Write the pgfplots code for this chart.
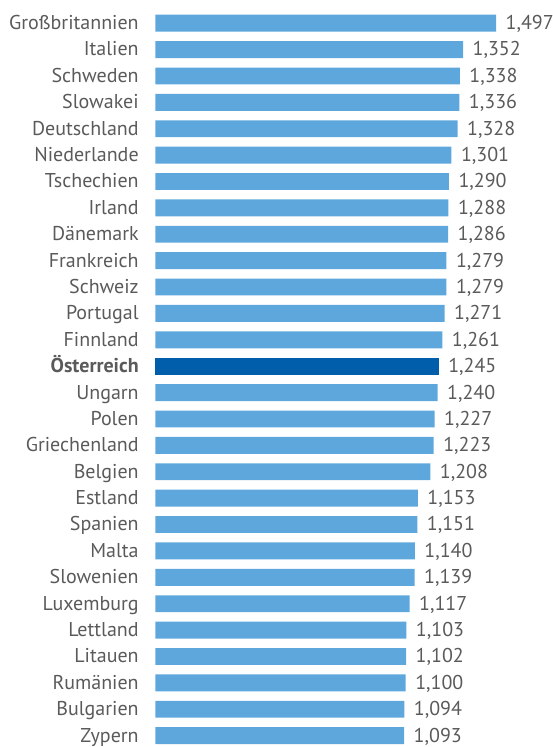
\documentclass[border=0pt]{standalone}
\usepackage{fontspec}
\setmainfont{PT Sans}
\usepackage{pgfplots}
\pgfplotsset{compat=1.18}
\definecolor{lightbar}{RGB}{93,167,220}
\definecolor{darkbar}{RGB}{0,94,171}
\definecolor{txt}{RGB}{90,90,90}
\begin{document}
\begin{tikzpicture}
\path[use as bounding box] (0,0) rectangle (414.75pt,560.25pt);
\begin{axis}[
  at={(116.6pt,2.2pt)}, anchor=south west,
  scale only axis, width=255.4pt, height=547pt,
  xmin=0, xmax=1.497,
  ymin=-0.32, ymax=27.32, y dir=reverse,
  xbar, bar width=0.64, bar shift=0pt,
  clip=false,
  axis line style={draw=none},
  xtick=\empty,
  ytick={0,...,27},
  major tick length=0pt,
  yticklabels={Großbritannien,Italien,Schweden,Slowakei,Deutschland,Niederlande,Tschechien,Irland,Dänemark,Frankreich,Schweiz,Portugal,Finnland,\textbf{Österreich},Ungarn,Polen,Griechenland,Belgien,Estland,Spanien,Malta,Slowenien,Luxemburg,Lettland,Litauen,Rumänien,Bulgarien,Zypern},
  yticklabel style={anchor=base east, inner sep=0pt, xshift=-12.4pt, yshift=-4.8pt, font=\fontsize{15}{18}\selectfont, text=txt},
  point meta=x,
  nodes near coords,
  nodes near coords style={anchor=base west, inner sep=0pt, xshift=7pt, yshift=-4.8pt, font=\fontsize{15}{18}\selectfont, text=txt,
    /pgf/number format/.cd, fixed, precision=3, fixed zerofill, use comma, assume math mode=true},
]
\addplot[fill=lightbar, draw=none] coordinates {
(1.497,0) (1.352,1) (1.338,2) (1.336,3) (1.328,4) (1.301,5) (1.290,6) (1.288,7)
(1.286,8) (1.279,9) (1.279,10) (1.271,11) (1.261,12)
(1.240,14) (1.227,15) (1.223,16) (1.208,17) (1.153,18) (1.151,19) (1.140,20)
(1.139,21) (1.117,22) (1.103,23) (1.102,24) (1.100,25) (1.094,26) (1.093,27)
};
\addplot[fill=darkbar, draw=none] coordinates {(1.245,13)};
\end{axis}
\end{tikzpicture}
\end{document}
